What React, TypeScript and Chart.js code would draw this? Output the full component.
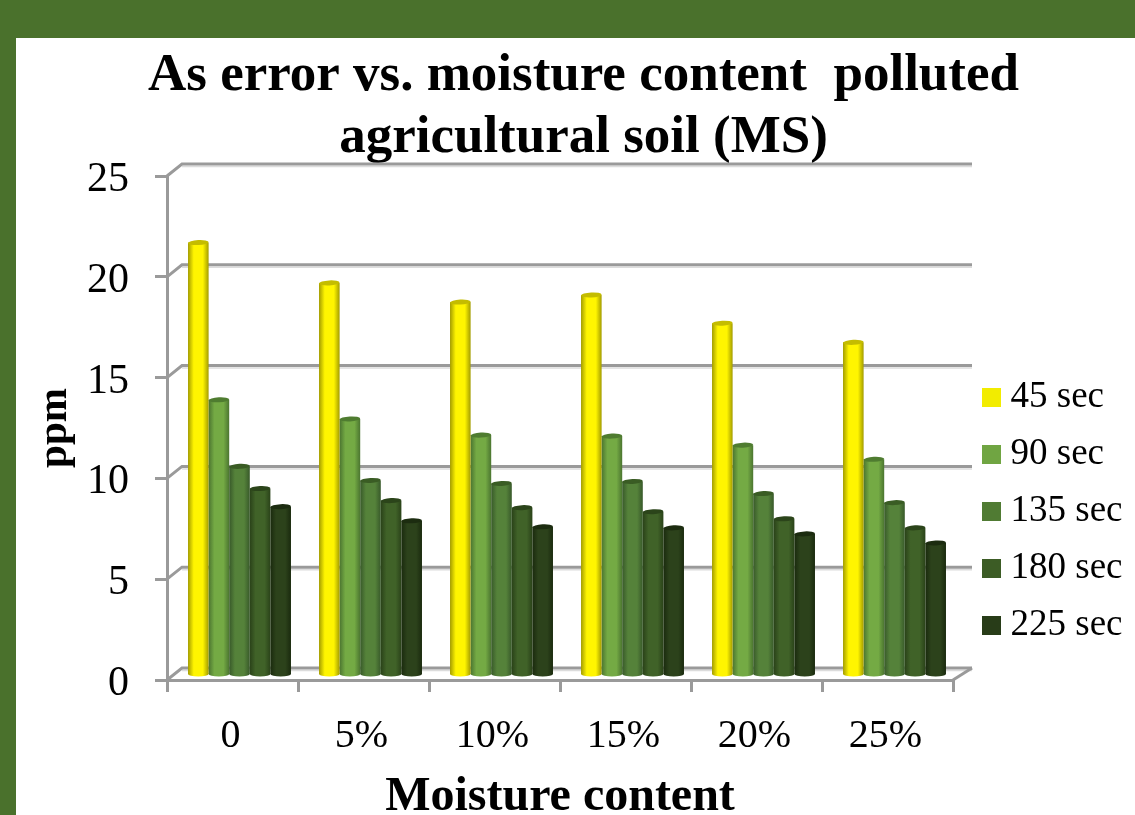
import React, { useEffect, useRef } from "react";
import { Chart, registerables } from "chart.js";

Chart.register(...registerables);

const titleLines = ["As error vs. moisture content  polluted", "agricultural soil (MS)"];
const xTitle = "Moisture content";
const yTitle = "ppm";
const categories = ["0", "5%", "10%", "15%", "20%", "25%"];
const seriesNames = ["45 sec", "90 sec", "135 sec", "180 sec", "225 sec"];
const s45 = [21.5, 19.5, 18.55, 18.9, 17.5, 16.55];
const s90 = [13.7, 12.75, 11.95, 11.9, 11.45, 10.75];
const s135 = [10.4, 9.7, 9.55, 9.65, 9.05, 8.6];
const s180 = [9.3, 8.7, 8.35, 8.15, 7.8, 7.35];
const s225 = [8.4, 7.7, 7.4, 7.35, 7.05, 6.6];
const seriesValues = [s45, s90, s135, s180, s225];
const legendColors = ["#f2ec00", "#70a542", "#507b33", "#3c5c25", "#283c18"];
const barEdge = ["#a39c00", "#4b7530", "#38592a", "#2a4219", "#1a2a0e"];
const barMid = ["#fff500", "#74aa44", "#55823a", "#406228", "#2c421b"];
const barTop = ["#c4bc00", "#4f7c30", "#3a5c24", "#2b441a", "#1c2c10"];
const yTicks = [0, 5, 10, 15, 20, 25];

const FONT = "'Liberation Serif', 'Times New Roman', serif";
const GROUP_PCT = 0.786;
const GRID = "#9a9a9a";
const DX = 15;
const DY = -12;
const SHIFT_X = 7;
const SHIFT_Y = -4;

function barFill(ctx: any) {
  const chart = ctx.chart;
  const xs = chart.scales.x;
  if (!xs || ctx.dataIndex === undefined) return legendColors[ctx.datasetIndex];
  const slot = (xs.right - xs.left) / categories.length;
  const w = (slot * GROUP_PCT) / seriesNames.length;
  const c = xs.getPixelForValue(ctx.dataIndex);
  const l = c - (slot * GROUP_PCT) / 2 + ctx.datasetIndex * w;
  const g = chart.ctx.createLinearGradient(l, 0, l + w, 0);
  const i = ctx.datasetIndex;
  g.addColorStop(0, barEdge[i]);
  g.addColorStop(0.28, barMid[i]);
  g.addColorStop(0.72, barMid[i]);
  g.addColorStop(1, barEdge[i]);
  return g;
}

const depthPlugin = {
  id: "depth3d",
  beforeLayout(chart: any) {
    const l = chart.legend;
    if (l && !l.__patched) {
      const f = l.fit;
      l.fit = function () {
        f.call(this);
        this.width = 182;
      };
      l.__patched = true;
    }
  },
  afterLayout(chart: any) {
    const l = chart.legend;
    l.left = 971;
    l.right = 1135;
    l.top = 323;
    l.bottom = 700;
  },
  beforeDatasetsDraw(chart: any) {
    const { ctx, chartArea: a, scales } = chart;
    ctx.save();
    yTicks.forEach((v) => {
      const y = scales.y.getPixelForValue(v);
      ctx.strokeStyle = "#dcdcdc";
      ctx.lineWidth = 1.5;
      ctx.beginPath();
      ctx.moveTo(a.left + DX, y + DY + 2.5);
      ctx.lineTo(a.right + DX + 4, y + DY + 2.5);
      ctx.stroke();
      ctx.strokeStyle = GRID;
      ctx.lineWidth = 3;
      ctx.beginPath();
      ctx.moveTo(a.left, y);
      ctx.lineTo(a.left + DX, y + DY);
      ctx.lineTo(a.right + DX + 4, y + DY);
      ctx.stroke();
    });
    const b = scales.y.getPixelForValue(0);
    ctx.beginPath();
    ctx.moveTo(a.right, b);
    ctx.lineTo(a.right + DX + 4, b + DY);
    ctx.stroke();
    ctx.restore();
    ctx.save();
    ctx.translate(SHIFT_X, SHIFT_Y);
    chart.data.datasets.forEach((_: any, d: number) => {
      chart.getDatasetMeta(d).data.forEach((el: any) => {
        ctx.fillStyle = el.options.backgroundColor;
        ctx.beginPath();
        ctx.ellipse(el.x, el.base, el.width / 2, 2.5, 0, 0, Math.PI * 2);
        ctx.fill();
      });
    });
  },
  afterDatasetsDraw(chart: any) {
    const { ctx } = chart;
    chart.data.datasets.forEach((_: any, d: number) => {
      chart.getDatasetMeta(d).data.forEach((el: any) => {
        ctx.fillStyle = barTop[d];
        ctx.beginPath();
        ctx.ellipse(el.x, el.y, el.width / 2, 2.5, -0.05, 0, Math.PI * 2);
        ctx.fill();
      });
    });
    ctx.restore();
  },
};

export default function App() {
  const ref = useRef<HTMLCanvasElement>(null);
  useEffect(() => {
    const chart = new Chart(ref.current as HTMLCanvasElement, {
      type: "bar",
      plugins: [depthPlugin],
      data: {
        labels: categories,
        datasets: seriesNames.map((name, i) => ({
          label: name,
          data: seriesValues[i],
          base: 0.1,
          clip: false,
          backgroundColor: barFill,
          borderWidth: 0,
          barPercentage: 1,
          categoryPercentage: GROUP_PCT,
        })),
      } as any,
      options: {
        responsive: false,
        animation: false,
        events: [],
        layout: { padding: { left: 32, right: 0, top: 38, bottom: 0 } },
        plugins: {
          tooltip: { enabled: false },
          title: {
            display: true,
            text: titleLines,
            color: "#000",
            font: { family: FONT, size: 53, weight: "bold", lineHeight: 62 / 53 },
            padding: { top: 7, bottom: 7 },
          },
          legend: {
            position: "right",
            labels: {
              color: "#000",
              font: { family: FONT, size: 37 },
              padding: 20,
              boxWidth: 1,
              boxHeight: 19,
              usePointStyle: true,
              generateLabels: () =>
                seriesNames.map((text, i) => ({
                  text,
                  fillStyle: legendColors[i],
                  strokeStyle: legendColors[i],
                  lineWidth: 0,
                  pointStyle: "rect",
                  datasetIndex: i,
                })),
            },
          },
        },
        scales: {
          x: {
            grid: { drawOnChartArea: false, color: GRID, lineWidth: 3, tickLength: 12 },
            border: { color: GRID, width: 3 },
            ticks: { color: "#000", font: { family: FONT, size: 40 }, padding: 20, maxRotation: 0, autoSkip: false, labelOffset: -2 },
            title: {
              display: true,
              text: xTitle,
              color: "#000",
              font: { family: FONT, size: 48, weight: "bold", lineHeight: 1 },
              padding: { top: 0, bottom: -7 },
            },
            afterFit: (s: any) => {
              s.height = 135;
            },
          },
          y: {
            min: 0,
            max: 25,
            afterBuildTicks: (s: any) => {
              s.ticks = yTicks.map((value) => ({ value }));
            },
            grid: { drawOnChartArea: false, color: GRID, lineWidth: 3, tickLength: 12 },
            border: { color: GRID, width: 3 },
            ticks: { color: "#000", font: { family: FONT, size: 42 }, padding: 26, labelOffset: 4 },
            title: {
              display: true,
              text: yTitle,
              color: "#000",
              font: { family: FONT, size: 41, weight: "bold" },
              padding: { top: -1, bottom: 0 },
            },
            afterFit: (s: any) => {
              s.width = 135;
            },
          },
        },
      } as any,
    });
    return () => chart.destroy();
  }, []);
  return (
    <div style={{ position: "absolute", left: 0, top: 0, width: 1135, height: 815, overflow: "hidden", background: "#4a712c" }}>
      <div style={{ position: "absolute", left: 16, top: 38, width: 1119, height: 777, background: "#fff" }} />
      <canvas ref={ref} width={1135} height={815} style={{ position: "absolute", left: 0, top: 0, display: "block" }} />
    </div>
  );
}
